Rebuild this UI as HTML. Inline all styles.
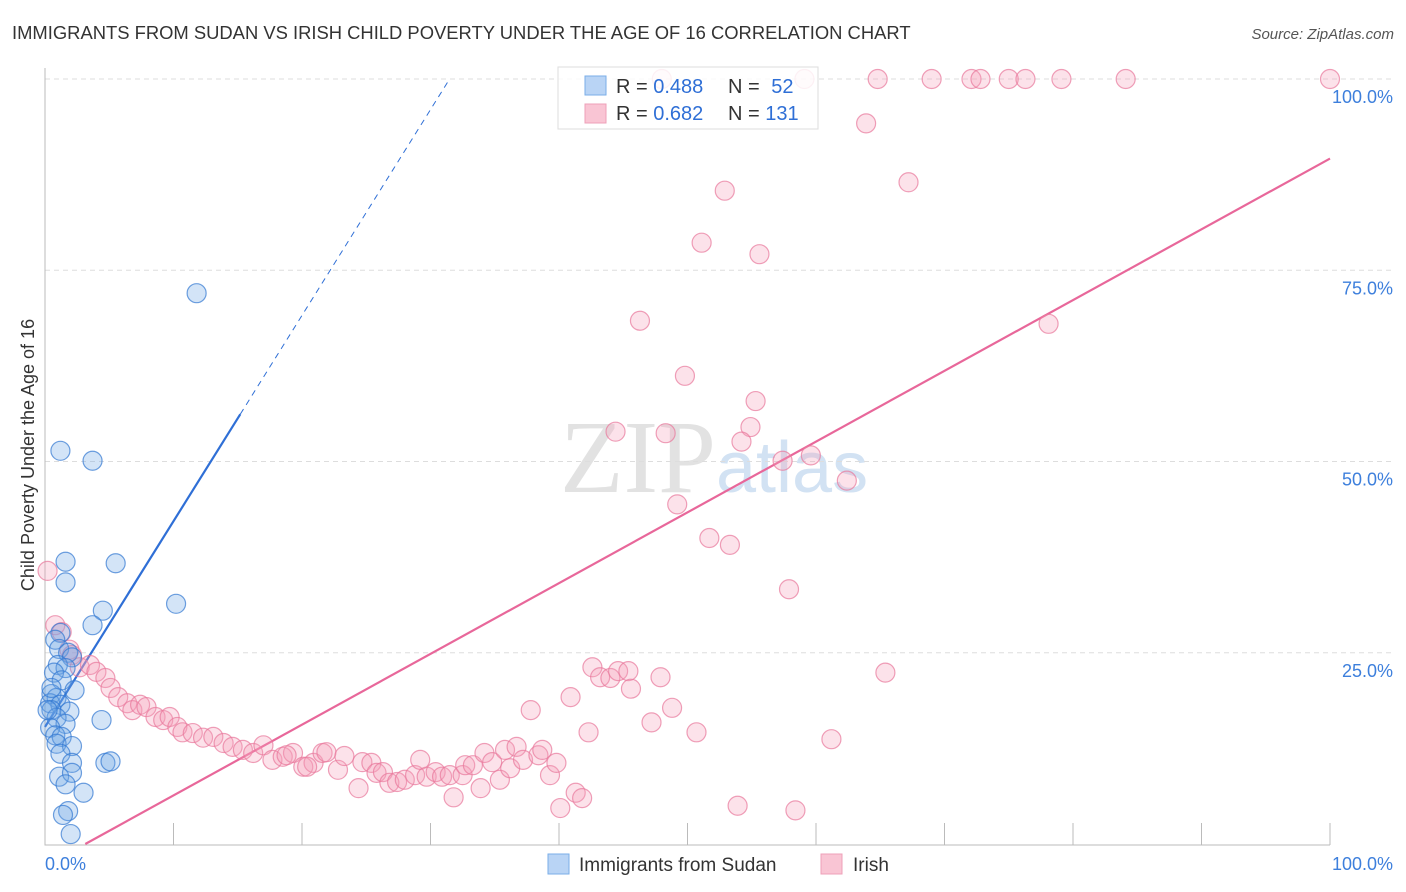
<!DOCTYPE html>
<html><head><meta charset="utf-8"><style>
body{margin:0;background:#fff;font-family:"Liberation Sans",sans-serif;}
#wrap{position:relative;width:1406px;height:892px;overflow:hidden;}
</style></head><body>
<div id="wrap">
<svg id="chart" width="1406" height="892" xmlns="http://www.w3.org/2000/svg">
<text x="12" y="39" font-size="18.4" fill="#333">IMMIGRANTS FROM SUDAN VS IRISH CHILD POVERTY UNDER THE AGE OF 16 CORRELATION CHART</text>
<text x="1394" y="39" font-size="15" fill="#555" font-style="italic" text-anchor="end">Source: ZipAtlas.com</text>
<text x="716" y="492" font-size="104" fill="#e2e2e2" font-family="Liberation Serif,serif" text-anchor="end">ZIP</text>
<text x="716" y="492" font-size="72" fill="#d2e2f3">atlas</text>
<g id="grid"></g>
<g id="axes"></g>
<g id="lines"></g>
<g id="pts"></g>
<text transform="translate(34,455) rotate(-90)" font-size="18" fill="#333" text-anchor="middle">Child Poverty Under the Age of 16</text>
<g>
<rect x="558" y="67" width="260" height="62" fill="rgba(255,255,255,0.85)" stroke="#ddd"/>
<rect x="585" y="76" width="21" height="19" fill="#b9d4f5" stroke="#7aaee8"/>
<rect x="585" y="104" width="21" height="19" fill="#f9c5d4" stroke="#eea0b8"/>
<text x="616" y="93" font-size="20" fill="#333">R = <tspan fill="#2f6fd6">0.488</tspan></text>
<text x="728" y="93" font-size="20" fill="#333">N = <tspan fill="#2f6fd6" dx="6">52</tspan></text>
<text x="616" y="120" font-size="20" fill="#333">R = <tspan fill="#2f6fd6">0.682</tspan></text>
<text x="728" y="120" font-size="20" fill="#333">N = <tspan fill="#2f6fd6">131</tspan></text>
</g>
<g>
<rect x="548" y="854" width="21" height="20" fill="#b9d4f5" stroke="#7aaee8"/>
<text x="579" y="871" font-size="19" fill="#333">Immigrants from Sudan</text>
<rect x="821" y="854" width="21" height="20" fill="#f9c5d4" stroke="#eea0b8"/>
<text x="853" y="871" font-size="19" fill="#333">Irish</text>
</g>
</svg>
</div>
<script>
const yTicks=[25,50,75,100];
const yTickLabels=["25.0%","50.0%","75.0%","100.0%"];
const xTicks=[0,10,20,30,40,50,60,70,80,90,100];
const sudanX=[1.2,3.7,11.8,1.6,5.5,1.6,10.2,4.5,3.7,1.2,0.8,1.1,1.8,2.1,1.0,1.6,0.7,1.3,2.3,0.5,0.9,0.4,1.2,0.5,1.9,0.9,4.4,1.6,0.4,0.8,1.3,0.9,2.1,1.2,2.1,4.7,5.1,1.1,2.1,3.0,1.6,1.8,1.4,2.0,0.5,0.2];
const sudanY=[51.4,50.1,72.0,36.9,36.7,34.2,31.4,30.5,28.6,27.6,26.7,25.5,25.0,24.4,23.4,23.0,22.4,21.4,20.1,19.6,19.1,18.4,18.2,17.5,17.3,16.5,16.2,15.7,15.2,14.2,14.0,13.1,12.8,11.8,10.6,10.6,10.8,8.8,9.3,6.7,7.8,4.3,3.8,1.3,20.4,17.5];
const irishX=[48.0,59.1,64.8,69.0,72.1,72.8,75.0,76.3,79.1,84.1,100,63.9,67.2,52.9,51.1,55.6,78.1,46.3,49.8,55.3,44.4,48.3,54.9,54.2,59.6,57.4,62.4,49.2,51.7,53.3,57.9,0.2,65.4,61.2,53.9,58.4,
0.8,1.3,1.9,2.1,2.7,3.5,4.0,4.7,5.1,5.7,6.4,6.8,7.4,7.9,8.6,9.2,9.7,10.3,10.7,11.5,12.3,13.1,13.9,14.6,15.4,16.2,17.0,17.7,18.5,19.3,20.1,20.9,21.6,
18.8,20.4,21.9,22.8,23.3,24.4,24.7,25.4,25.8,26.3,26.8,27.4,28.0,28.8,29.2,29.7,30.4,30.9,31.5,31.8,32.5,32.7,33.3,33.9,34.2,34.8,35.4,35.8,36.2,36.7,37.2,37.8,38.4,38.7,39.3,39.8,40.1,40.9,41.3,41.8,42.3,42.6,43.2,44.0,44.6,45.4,45.6,47.2,47.9,48.8,50.7];
const irishY=[100,100,100,100,100,100,100,100,100,100,100,94.2,86.5,85.4,78.6,77.1,68.0,68.4,61.2,57.9,53.9,53.7,54.5,52.6,50.8,50.1,47.5,44.4,40.0,39.1,33.3,35.7,22.4,13.7,5.0,4.4,
28.6,27.7,25.4,24.7,23.1,23.4,22.5,21.7,20.4,19.2,18.4,17.5,18.2,17.9,16.6,16.2,16.6,15.3,14.6,14.5,13.9,14.0,13.2,12.7,12.3,11.9,12.9,11.0,11.4,11.9,10.1,10.6,11.9,
11.6,10.1,12.0,9.7,11.5,7.3,10.7,10.6,9.3,9.4,8.0,8.1,8.4,9.0,11.0,8.8,9.4,8.8,9.0,6.1,9.0,10.3,10.3,7.3,11.9,10.7,8.4,12.3,9.9,12.7,11.0,17.5,11.6,12.3,9.0,10.6,4.7,19.2,6.7,6.0,14.6,23.1,21.8,21.7,22.6,22.6,20.3,15.9,21.8,17.8,14.6];
const sudanLine=[15.3,2.69]; // intercept, slope
const irishLine=[-2.9,0.925];

const NS="http://www.w3.org/2000/svg";
const X=v=>45+v*12.85, Y=v=>844-v*7.65;
function mk(tag,attrs,parent){const e=document.createElementNS(NS,tag);for(const k in attrs)e.setAttribute(k,attrs[k]);parent.appendChild(e);return e;}
const grid=document.getElementById('grid'),axes=document.getElementById('axes'),lines=document.getElementById('lines'),pts=document.getElementById('pts');
yTicks.forEach((t,i)=>{
 const l=mk('line',{x1:45,x2:1395,y1:Y(t),y2:Y(t),stroke:'#ddd','stroke-dasharray':'5,4'},grid);
 
 
 const tx=mk('text',{x:1393,y:Y(t)+24,'font-size':18,fill:'#3d7fdc','text-anchor':'end'},axes);
 tx.textContent=yTickLabels[i];
 
 
});
const ax=mk('path',{d:'M45,68V845H1330',stroke:'#bbb',fill:'none'},axes);


xTicks.forEach(t=>{
 const l=mk('line',{x1:X(t),x2:X(t),y1:823,y2:845,stroke:'#bbb'},axes);
 
 
});
[['0.0%',45,'start'],['100.0%',1393,'end']].forEach(a=>{
 const tx=mk('text',{x:a[1],y:870,'font-size':18,fill:'#3d7fdc','text-anchor':a[2]},axes);
 tx.textContent=a[0];
 
 
});
function drawPts(xs,ys,fill,stroke,name){
 xs.forEach((x,i)=>{
  const c=mk('circle',{cx:X(x),cy:Y(ys[i]),r:9.5,fill:fill,stroke:stroke,'stroke-width':1.2},pts);
  
  
 });
}
drawPts(irishX,irishY,'rgba(245,160,185,0.3)','rgba(232,120,155,0.7)','irish-point');
drawPts(sudanX,sudanY,'rgba(110,165,230,0.3)','rgba(50,120,210,0.7)','sudan-point');
const sx1=15.2, sx2=(100-sudanLine[0])/sudanLine[1];
const s1=mk('line',{x1:X(0),y1:Y(sudanLine[0]),x2:X(sx1),y2:Y(sudanLine[0]+sudanLine[1]*sx1),stroke:'#2f6fd6','stroke-width':2.2},lines);


const s2=mk('line',{x1:X(sx1),y1:Y(sudanLine[0]+sudanLine[1]*sx1),x2:X(sx2),y2:Y(100),stroke:'#2f6fd6','stroke-width':1,'stroke-dasharray':'6,5'},lines);


const ix0=-irishLine[0]/irishLine[1];
const p1=mk('line',{x1:X(ix0),y1:Y(0),x2:X(100),y2:Y(irishLine[0]+irishLine[1]*100),stroke:'#e8679a','stroke-width':2.2},lines);


</script>
</body></html>
